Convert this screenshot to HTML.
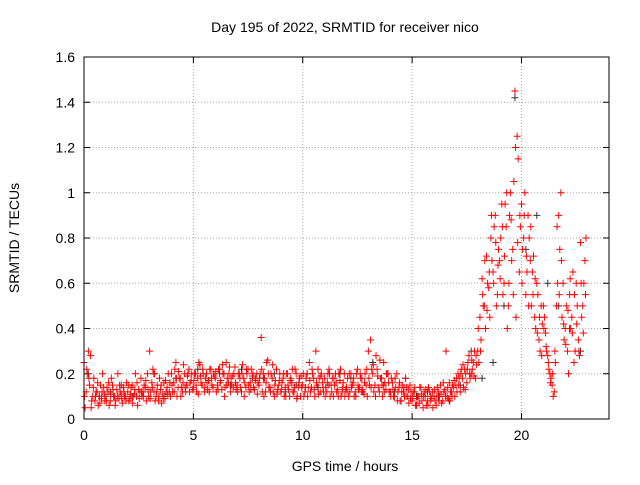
<!DOCTYPE html>
<html><head><meta charset="utf-8"><style>
body{margin:0;background:#fff}
svg{font-family:"Liberation Sans",sans-serif;font-size:14px}
</style></head><body>
<svg id="chart" width="640" height="480">
<text x="345" y="32" text-anchor="middle">Day 195 of 2022, SRMTID for receiver nico</text>
<text transform="translate(19,238) rotate(-90)" text-anchor="middle">SRMTID / TECUs</text>
<text x="345" y="471" text-anchor="middle">GPS time / hours</text>
<g id="grid"></g>
<g id="axes"></g>
<g id="marks"></g>
<rect x="84" y="57" width="525" height="362" fill="none" stroke="#000"/>
</svg>
<script>
const xTicks=[0,5,10,15,20];
const yTicks=[0,0.2,0.4,0.6,0.8,1,1.2,1.4,1.6];
const yTickLabels=["0","0.2","0.4","0.6","0.8","1","1.2","1.4","1.6"];
const seriesA=[.25,.12,.3,.28,.1,.08,.12,.1,.09,.14,
.1,.12,.08,.15,.1,.13,.09,.11,.14,.1,
.12,.09,.15,.11,.1,.13,.18,.12,.14,.2,
.3,.16,.12,.1,.08,.13,.11,.09,.14,.12,
.2,.16,.25,.14,.18,.12,.2,.15,.22,.17,
.14,.2,.18,.24,.15,.12,.2,.17,.22,.14,
.18,.15,.22,.13,.2,.25,.16,.12,.19,.23,
.15,.2,.12,.18,.14,.22,.16,.19,.13,.2,
.15,.36,.2,.12,.26,.14,.18,.1,.22,.15,
.12,.18,.14,.2,.1,.16,.12,.2,.14,.1,
.15,.12,.2,.25,.14,.18,.3,.22,.12,.16,
.18,.12,.22,.15,.1,.2,.13,.17,.12,.2,
.14,.1,.2,.16,.12,.22,.14,.18,.11,.15,
.3,.35,.2,.15,.22,.12,.18,.25,.13,.2,
.12,.16,.1,.2,.14,.08,.12,.18,.1,.15,
.08,.12,.06,.1,.14,.05,.1,.08,.12,.09,
.1,.06,.12,.15,.08,.13,.1,.16,.12,.14,
.15,.2,.12,.18,.22,.16,.28,.2,.25,.18,
.3,.45,.62,.5,.72,.58,.8,.65,.9,.55,
.7,.95,.6,.85,.5,1.0,.75,1.45,1.25,.65,
.95,.8,.55,.9,.7,.65,.45,.6,.35,.5,
.5,.38,.28,.2,.15,.12,.5,.9,1.0,.6,
.4,.3,.55,.45,.25,.6,.35,.78,.5,.7];
const seriesB=[.05,.2,.15,.08,.18,.12,.06,.15,.2,.08,
.14,.06,.18,.1,.08,.2,.12,.07,.1,.16,
.08,.14,.1,.2,.06,.12,.1,.15,.08,.1,
.12,.22,.08,.15,.18,.07,.16,.12,.2,.1,
.12,.22,.1,.18,.14,.24,.12,.2,.16,.13,
.2,.12,.25,.16,.2,.18,.13,.22,.15,.19,
.12,.22,.17,.2,.14,.18,.23,.15,.2,.13,
.2,.14,.24,.16,.2,.12,.22,.14,.18,.16,
.2,.12,.18,.25,.14,.2,.12,.17,.13,.2,
.16,.1,.2,.13,.18,.12,.22,.1,.18,.14,
.1,.18,.14,.12,.2,.1,.15,.18,.2,.12,
.14,.2,.1,.18,.15,.12,.2,.1,.16,.13,
.18,.12,.15,.1,.2,.13,.18,.12,.2,.1,
.15,.22,.12,.28,.14,.18,.1,.16,.2,.12,
.18,.1,.14,.12,.08,.15,.1,.14,.07,.12,
.12,.06,.1,.14,.08,.12,.06,.14,.1,.05,
.08,.14,.1,.07,.12,.3,.09,.12,.15,.1,
.12,.18,.22,.14,.2,.25,.18,.22,.3,.24,
.25,.35,.5,.4,.6,.45,.7,.85,.5,.75,
.8,.55,.95,.4,.9,.7,1.05,.45,1.15,.85,
.75,1.0,.65,.8,.5,.72,.4,.55,.3,.42,
.45,.3,.22,.18,.1,.25,.6,.75,.45,.35,
.5,.2,.4,.65,.3,.5,.28,.45,.6,.8];
const seriesC=[.1,.22,.18,.05,.14,.1,.16,.07,.12,.11,
.08,.16,.11,.13,.06,.1,.15,.09,.12,.08,
.15,.11,.07,.13,.16,.09,.12,.1,.17,.13,
.09,.14,.2,.12,.1,.15,.09,.17,.11,.16,
.15,.12,.18,.21,.1,.16,.14,.19,.12,.2,
.17,.15,.11,.19,.22,.14,.16,.12,.18,.2,
.21,.13,.16,.24,.1,.15,.2,.18,.14,.16,
.12,.18,.2,.1,.22,.15,.13,.2,.17,.11,
.18,.22,.1,.16,.2,.12,.24,.15,.11,.17,
.13,.2,.1,.15,.17,.22,.14,.09,.16,.19,
.2,.14,.1,.17,.22,.13,.16,.11,.19,.14,
.1,.16,.2,.12,.18,.16,.1,.22,.14,.1,
.12,.2,.14,.18,.1,.15,.2,.13,.16,.22,
.18,.14,.24,.1,.19,.26,.15,.12,.2,.16,
.1,.13,.18,.08,.16,.12,.14,.1,.13,.09,
.1,.14,.09,.07,.11,.1,.13,.06,.08,.12,
.13,.1,.08,.11,.16,.1,.14,.08,.1,.17,
.18,.15,.2,.24,.13,.22,.2,.26,.19,.28,
.4,.3,.55,.7,.48,.65,.9,.6,.78,.68,
.62,.85,.72,1.0,.6,.88,.55,1.2,.78,.9,
.6,.9,.72,.5,.85,.55,.62,.38,.45,.28,
.4,.32,.25,.16,.2,.3,.85,.55,.7,.42,
.33,.48,.62,.38,.55,.42,.3,.6,.38,.55];
const seriesBlack=[.2,.1,.12,.15,.1,.12,.2,.1,.18,.15,.22,.17,.2,.15,.22,.18,.18,.2,.12,.15,.2,.14,.15,.2,.18,.12,.25,.15,.12,.18,.1,.12,.1,.08,.15,.3,.18,.25,.5,1.42,.75,.9,.6,.5,.4,.3];
const NS='http://www.w3.org/2000/svg';
const X0=84,X1=609,Y0=419,Y1=57,XMAX=24,YMAX=1.6;
const xs=v=>X0+(X1-X0)*v/XMAX, ys=v=>Y0-(Y0-Y1)*v/YMAX;
function mk(t,a,p){const e=document.createElementNS(NS,t);for(const k in a)e.setAttribute(k,a[k]);p.appendChild(e);return e;}
const grid=document.getElementById('grid'),axes=document.getElementById('axes'),marks=document.getElementById('marks');
xTicks.forEach(v=>{const x=xs(v);
 if(v>0){const g=mk('line',{x1:x,x2:x,y1:Y1,y2:Y0,stroke:'#aaa','stroke-dasharray':'1,2'},grid);}
 mk('line',{x1:x,x2:x,y1:Y0,y2:Y0-6,stroke:'#000'},axes);mk('line',{x1:x,x2:x,y1:Y1,y2:Y1+6,stroke:'#000'},axes);
 const t=mk('text',{x:x,y:Y0+21,'text-anchor':'middle'},axes);t.textContent=v;
 
 });
yTicks.forEach((v,i)=>{const y=ys(v);
 if(v>0&&v<YMAX){const g=mk('line',{x1:X0,x2:X1,y1:y,y2:y,stroke:'#aaa','stroke-dasharray':'1,2'},grid);}
 mk('line',{x1:X0,x2:X0+6,y1:y,y2:y,stroke:'#000'},axes);mk('line',{x1:X1,x2:X1-6,y1:y,y2:y,stroke:'#000'},axes);
 const t=mk('text',{x:X0-9,y:y+5,'text-anchor':'end'},axes);t.textContent=yTickLabels[i];
 
 });
function plus(t,v,c){const x=xs(t),y=ys(v);
 const p=mk('path',{d:`M${x-3.5},${y}H${x+3.5}M${x},${y-3.5}V${y+3.5}`,stroke:c,'stroke-width':1,fill:'none'},marks);
 
 }
seriesBlack.forEach((v,i)=>plus(i*0.5+0.2,v,'#333'));
seriesA.forEach((v,i)=>plus(i*0.1,v,'#f00'));
seriesB.forEach((v,i)=>plus(i*0.1+0.05,v,'#f00'));
seriesC.forEach((v,i)=>plus(i*0.1+0.025,v,'#f00'));
</script>
</body></html>
